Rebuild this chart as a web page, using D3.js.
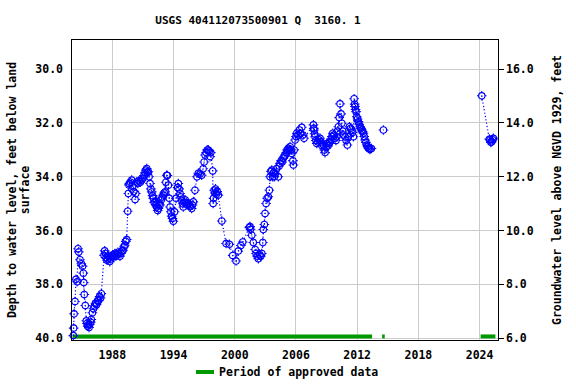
<!DOCTYPE html>
<html><head><meta charset="utf-8">
<script src="https://cdn.jsdelivr.net/npm/d3@7"></script>
<style>body{margin:0;background:#fff}svg{display:block}text{font-family:"DejaVu Sans Mono",monospace;font-weight:bold;fill:#000}</style>
</head><body>
<script>
// ---- data ----
const title = "USGS 404112073500901 Q  3160. 1";
const yearTicks = [1988, 1994, 2000, 2006, 2012, 2018, 2024];
const depthTicks = [30, 32, 34, 36, 38, 40];
const elevTicks = [6, 8, 10, 12, 14, 16];
const dates = [
1984.18,1984.21,1984.25,1984.34,1984.44,1984.55,1984.64,1984.71,1984.83,1984.96,1985.08,1985.16,1985.20,1985.25,1985.35,1985.45,1985.52,1985.58,1985.65,1985.72,1985.80,1985.88,1985.94,1986.05,1986.15,1986.25,1986.35,1986.45,1986.55,1986.65,1986.75,1986.85,1986.92,
1987.19,1987.25,1987.32,1987.40,1987.48,1987.55,1987.65,1987.75,1987.85,1987.95,1988.05,1988.15,1988.25,1988.35,1988.45,1988.55,1988.65,1988.75,1988.85,1988.95,1989.05,1989.15,1989.22,1989.32,1989.41,1989.51,1989.57,1989.63,1989.67,1989.78,1989.90,1990.00,1990.10,1990.23,1990.30,1990.39,1990.50,1990.60,1990.75,1990.88,1991.00,1991.10,1991.20,1991.30,1991.37,1991.45,1991.53,1991.60,1991.70,1991.78,1991.86,1991.95,1992.02,1992.10,1992.19,1992.28,1992.35,1992.45,1992.51,1992.60,1992.68,1992.80,1992.90,1993.00,1993.08,1993.17,1993.25,1993.33,1993.40,1993.49,1993.58,1993.66,1993.74,1993.82,1993.90,1993.98,1994.10,1994.25,1994.40,1994.47,1994.55,1994.64,1994.72,1994.80,1994.90,1994.96,1995.05,1995.13,1995.25,1995.35,1995.45,1995.55,1995.65,1995.78,1995.86,1995.94,1996.10,1996.30,1996.43,1996.60,1996.76,1996.90,1997.00,1997.09,1997.20,1997.30,1997.41,1997.50,1997.58,1997.65,1997.84,1997.88,1997.92,1997.98,1998.05,1998.12,1998.20,1998.28,1998.39,1998.73,1999.15,1999.47,1999.80,2000.13,2000.35,2000.60,2000.78,2001.43,2001.50,2001.55,2001.67,2001.82,2002.00,2002.09,2002.20,2002.31,2002.45,2002.55,2002.65,2002.75,2002.80,2002.90,2002.97,2003.07,2003.18,2003.29,2003.39,2003.46,2003.55,2003.63,2003.72,2003.80,2003.88,2003.95,2004.10,2004.27,2004.35,2004.44,2004.55,2004.65,2004.76,2004.85,2004.93,2005.05,2005.15,2005.25,2005.35,2005.42,2005.50,2005.59,2005.70,2005.75,2005.82,2005.91,2006.00,2006.08,2006.20,2006.33,2006.45,2006.57,2006.68,2006.79,
2007.71,2007.74,2007.77,2007.82,2007.87,2007.95,2008.04,2008.15,2008.25,2008.36,2008.45,2008.55,2008.69,2008.78,2008.85,2008.95,2009.02,2009.15,2009.25,2009.34,2009.45,2009.52,2009.61,2009.70,2009.83,2009.92,2010.00,2010.08,2010.16,2010.24,2010.32,2010.42,2010.49,2010.58,2010.68,2010.81,2010.92,2011.04,2011.14,2011.24,2011.35,2011.47,2011.55,2011.63,2011.70,2011.75,2011.79,2011.84,2011.89,2011.96,2012.04,2012.12,2012.20,2012.29,2012.37,2012.45,2012.53,2012.61,2012.69,2012.77,2012.85,2012.94,2013.02,2013.10,2013.18,2013.26,2013.40,
2014.57,2024.21,2024.95,2025.03,2025.10,2025.19,2025.27,2025.35];
const depths = [
39.90,39.62,39.09,38.63,37.81,37.90,36.67,36.79,37.08,37.23,37.32,37.58,37.93,38.37,38.78,39.35,39.45,39.55,39.50,39.60,39.48,39.40,39.30,39.05,38.90,38.80,38.70,38.75,38.60,38.60,38.45,38.50,38.34,
36.92,36.75,36.85,37.00,37.10,37.05,36.95,37.15,37.05,36.95,36.90,36.95,36.85,36.95,36.90,36.80,36.85,36.95,36.85,36.75,36.73,36.60,36.54,36.40,36.33,35.28,34.62,34.30,34.25,34.20,34.12,34.35,34.55,34.84,34.62,34.19,34.25,34.15,34.20,34.12,34.05,33.95,33.85,33.75,33.69,33.85,33.81,34.00,34.25,34.45,34.56,34.70,34.80,34.95,34.93,35.05,35.12,35.25,35.18,35.00,35.05,34.85,34.75,34.68,34.60,34.56,34.20,33.94,33.95,34.31,34.80,35.12,35.30,35.46,35.55,35.65,35.30,34.80,34.40,34.25,34.45,34.62,34.75,34.87,35.00,35.12,34.95,34.85,34.95,35.05,34.98,35.05,35.10,35.18,35.05,34.93,34.50,34.00,33.87,33.90,33.94,33.70,33.45,33.19,33.10,33.00,33.00,33.05,33.25,33.10,33.78,34.99,34.80,34.50,34.60,34.45,34.65,34.55,34.68,35.64,36.48,36.51,36.92,37.13,36.76,36.55,36.42,35.88,35.85,35.95,36.17,36.44,36.70,36.85,36.95,37.04,36.90,36.95,36.85,36.44,35.96,35.77,35.36,34.99,34.80,34.74,34.50,34.00,33.80,33.75,34.00,33.85,34.00,33.87,33.70,34.00,33.60,33.50,33.40,33.45,33.31,33.25,33.19,33.10,33.00,32.94,33.00,32.88,33.00,33.13,33.40,33.56,33.00,32.63,32.50,32.38,32.45,32.26,32.40,32.16,32.45,32.57,
32.07,32.20,32.26,32.40,32.51,32.65,32.76,32.70,32.62,32.57,32.70,32.85,32.82,33.00,33.10,32.90,32.76,32.85,32.75,32.70,32.60,32.50,32.38,32.45,32.57,32.65,32.51,32.30,32.14,31.80,31.29,31.66,32.01,32.30,32.45,32.51,32.65,32.82,32.50,32.14,32.20,32.26,32.35,32.51,31.10,31.30,31.39,31.50,31.58,31.77,31.85,31.95,32.05,32.14,32.20,32.26,32.32,32.38,32.50,32.63,32.72,32.82,32.88,32.94,32.96,32.98,32.95,
32.26,30.99,32.60,32.63,32.72,32.70,32.62,32.57];
const approvedStart = [1984.0, 2014.35, 2024.0];
const approvedEnd   = [2013.46, 2014.7, 2025.55];
const datum = 46.0; // elevation = datum - depth

// ---- layout ----
const W = 576, H = 384;
const m = {l: 71, r: 499, t: 39, b: 341};
const svg = d3.select("body").append("svg").attr("width", W).attr("height", H);

const x = d3.scaleLinear().domain([1983.95, 2025.9]).range([m.l, m.r]);
const y = d3.scaleLinear().domain([28.88, 40.1]).range([m.t, m.b]);
const y2 = d3.scaleLinear().domain([datum - 28.88, datum - 40.1]).range([m.t, m.b]);

// grid
svg.append("g").selectAll("line").data(yearTicks).join("line")
  .attr("x1", d => x(d)).attr("x2", d => x(d)).attr("y1", m.t).attr("y2", m.b)
  .attr("stroke", "#cccccc").attr("stroke-width", 1).attr("shape-rendering", "crispEdges");
svg.append("g").selectAll("line").data(depthTicks).join("line")
  .attr("x1", m.l).attr("x2", m.r).attr("y1", d => y(d)).attr("y2", d => y(d))
  .attr("stroke", "#cccccc").attr("stroke-width", 1).attr("shape-rendering", "crispEdges");

// approved periods
svg.append("g").selectAll("line").data(approvedStart).join("line")
  .attr("x1", d => x(d) + 1).attr("x2", (d, i) => x(approvedEnd[i]))
  .attr("y1", y(39.93)).attr("y2", y(39.93))
  .attr("stroke", "#009900").attr("stroke-width", 4);

// line segments (break on gaps > 1 year)
const pts = dates.map((d, i) => [d, depths[i]]);
const segs = [];
let cur = [];
pts.forEach((p, i) => {
  if (i > 0 && p[0] - pts[i - 1][0] > 1.0) { segs.push(cur); cur = []; }
  cur.push(p);
});
segs.push(cur);
const line = d3.line().x(d => x(d[0])).y(d => y(d[1]));
svg.append("g").selectAll("path").data(segs.filter(s => s.length > 1)).join("path")
  .attr("d", line).attr("fill", "none").attr("stroke", "#0000ff")
  .attr("stroke-width", 1.2).attr("stroke-dasharray", "1.2,2.2");

// markers
const mk = svg.append("g").selectAll("g").data(pts).join("g")
  .attr("transform", d => `translate(${x(d[0])},${y(d[1])})`);
mk.append("circle").attr("r", 3.2).attr("fill", "none").attr("stroke", "#0000ff").attr("stroke-width", 1.1);
mk.append("path").attr("d", "M0,-4.8V-3.2M0,3.2V4.8M-4.8,0H-3.2M3.2,0H4.8")
  .attr("stroke", "#0000ff").attr("stroke-width", 1.1);
mk.append("rect").attr("x", -0.5).attr("y", -0.5).attr("width", 1).attr("height", 1).attr("fill", "#0000ff");

// frame
svg.append("rect").attr("x", m.l + 0.5).attr("y", m.t + 0.5)
  .attr("width", m.r - m.l - 1).attr("height", m.b - m.t - 1)
  .attr("fill", "none").attr("stroke", "#000").attr("stroke-width", 1);

// x tick labels
svg.append("g").selectAll("text").data(yearTicks).join("text")
  .attr("x", d => x(d)).attr("y", 359).attr("text-anchor", "middle")
  .attr("font-size", "11.5px").text(d => d);

// left labels
svg.append("g").selectAll("text").data(depthTicks).join("text")
  .attr("x", 63).attr("y", d => y(d) + 4).attr("text-anchor", "end")
  .attr("font-size", "11.5px").text(d => d.toFixed(1));

// right axis
svg.append("g").selectAll("line").data(elevTicks).join("line")
  .attr("x1", m.r).attr("x2", m.r + 5).attr("y1", d => y2(d)).attr("y2", d => y2(d))
  .attr("stroke", "#000").attr("shape-rendering", "crispEdges");
svg.append("g").selectAll("text").data(elevTicks).join("text")
  .attr("x", 506).attr("y", d => y2(d) + 4).attr("text-anchor", "start")
  .attr("font-size", "11.5px").text(d => d.toFixed(1));

// title
svg.append("text").attr("x", 258).attr("y", 24).attr("text-anchor", "middle")
  .attr("font-size", "11px").style("white-space", "pre").text(title);

// axis titles
const yc = (m.t + m.b) / 2;
svg.append("text").attr("transform", `translate(16,${yc}) rotate(-90)`)
  .attr("text-anchor", "middle").attr("font-size", "11.5px")
  .text("Depth to water level, feet below land");
svg.append("text").attr("transform", `translate(29,${yc}) rotate(-90)`)
  .attr("text-anchor", "middle").attr("font-size", "11.5px").text("surface");
svg.append("text").attr("transform", `translate(561,${yc}) rotate(-90)`)
  .attr("text-anchor", "middle").attr("font-size", "11.5px")
  .text("Groundwater level above NGVD 1929, feet");

// legend
svg.append("line").attr("x1", 196).attr("x2", 214).attr("y1", 372).attr("y2", 372)
  .attr("stroke", "#009900").attr("stroke-width", 4);
svg.append("text").attr("x", 219).attr("y", 376).attr("font-size", "11.5px")
  .text("Period of approved data");
</script>
</body></html>
